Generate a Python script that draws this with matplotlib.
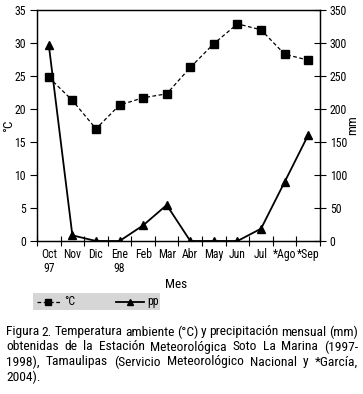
import matplotlib
matplotlib.use("Agg")
import matplotlib.pyplot as plt
from matplotlib.patches import Rectangle
from matplotlib.lines import Line2D
import numpy as np

months = ["Oct\n97", "Nov", "Dic", "Ene\n98", "Feb", "Mar", "Abr", "May", "Jun", "Jul", "*Ago", "*Sep"]
temp_c = [24.8, 21.3, 17.0, 20.6, 21.7, 22.3, 26.3, 29.9, 32.9, 32.0, 28.3, 27.4]
precip_mm = [297, 8.6, 0, 0, 23.7, 54.5, 0, 0, 0, 18.7, 89.4, 160.6]
left_ticks = [0, 5, 10, 15, 20, 25, 30, 35]
right_ticks = [0, 50, 100, 150, 200, 250, 300, 350]

FONT = ["Roboto Condensed", "DejaVu Sans"]
plt.rcParams['font.family'] = FONT

W, H = 363, 394
fig = plt.figure(figsize=(W / 100, H / 100), dpi=100)
ax = fig.add_axes([37 / W, 1 - 241 / H, (320 - 37) / W, (241 - 10) / H])
ax2 = ax.twinx()

x = np.arange(len(months))
ax.plot(x, temp_c, color="black", lw=0.9, ls=(0, (3, 2)), marker="s", ms=5.5,
        mfc="black", mec="black", zorder=3)
ax2.plot(x, precip_mm, color="black", lw=1.3, ls="-", marker="^", ms=5.5,
         mfc="black", mec="black", zorder=3)

TK = 8.5
ax.set_xlim(-0.5, len(months) - 0.5)
ax.set_ylim(0, 35)
ax2.set_ylim(0, 350)
ax.set_yticks(left_ticks)
ax2.set_yticks(right_ticks)
ax.set_xticks(x)
ax.set_xticklabels(months, fontsize=TK, linespacing=1.1)
ax.set_xticks(np.arange(-0.5, len(months)), minor=True)
ax.tick_params(axis="x", which="major", length=0, pad=5)
ax.tick_params(axis="x", which="minor", direction="inout", length=7, width=0.8)
ax.tick_params(axis="y", direction="out", length=5, width=0.8, labelsize=TK, pad=3)
ax2.tick_params(axis="y", direction="inout", length=8, width=0.8, labelsize=TK, pad=3)
for a in (ax, ax2):
    for s in a.spines.values():
        s.set_linewidth(0.9)
ax.set_ylabel("°C", fontsize=9.5)
ax.yaxis.set_label_coords((15 - 37) / 283, 0.5)
ax2.set_ylabel("mm", fontsize=9.5)
ax2.yaxis.set_label_coords((346 - 37) / 283, 0.5)

fig.text(176 / W, 1 - 284 / H, "Mes", fontsize=9.5, ha="center", va="center")

# legend box
fig.patches.append(Rectangle((33 / W, 1 - 310 / H), (160 - 33) / W, 17 / H,
                             transform=fig.transFigure, facecolor="#d6d6d6",
                             edgecolor="none"))
ly = 1 - 301.5 / H
fig.lines.append(Line2D([37 / W, 60 / W], [ly, ly], transform=fig.transFigure,
                        color="black", lw=0.9, ls=(0, (3, 2))))
fig.lines.append(Line2D([48.5 / W], [ly], transform=fig.transFigure, marker="s",
                        ms=5, color="black"))
fig.text(64 / W, ly, "°C", fontsize=8.5, va="center", ha="left")
fig.lines.append(Line2D([116 / W, 144 / W], [ly, ly], transform=fig.transFigure,
                        color="black", lw=1.3))
fig.lines.append(Line2D([130 / W], [ly], transform=fig.transFigure, marker="^",
                        ms=5, color="black"))
fig.text(147 / W, ly, "pp", fontsize=8.5, va="center", ha="left")

caption = [
    "Figura 2. Temperatura ambiente (°C) y precipitación mensual (mm)",
    "obtenidas de la Estación Meteorológica Soto La Marina (1997-",
    "1998), Tamaulipas (Servicio Meteorológico Nacional y *García,",
    "2004).",
]
fig.canvas.draw()
renderer = fig.canvas.get_renderer()
x0, x1 = 6, 358
MIN_GAP = 2.6

# find largest font size so every justified line keeps a normal word gap
probe = fig.text(0, 0, "", fontsize=10)
def words_width(words, fs):
    probe.set_fontsize(fs)
    tot = 0
    for w in words:
        probe.set_text(w)
        tot += probe.get_window_extent(renderer).width
    return tot

CAP = 10.6
while CAP > 7:
    ok = True
    for line in caption[:-1]:
        ws = line.split(" ")
        if (x1 - x0) - words_width(ws, CAP) < MIN_GAP * (len(ws) - 1):
            ok = False
            break
    if ok:
        break
    CAP -= 0.1
probe.remove()

for i, line in enumerate(caption):
    yy = 1 - (332 + 15 * i) / H
    words = line.split(" ")
    if i == len(caption) - 1:
        fig.text(x0 / W, yy, line, fontsize=CAP, va="center", ha="left")
        continue
    texts = [fig.text(0, yy, w, fontsize=CAP, va="center", ha="left") for w in words]
    widths = [t.get_window_extent(renderer).width for t in texts]
    gap = ((x1 - x0) - sum(widths)) / (len(words) - 1)
    cur = x0
    for t, wd in zip(texts, widths):
        t.set_x(cur / W)
        cur += wd + gap

fig.savefig("out.png", dpi=100)
